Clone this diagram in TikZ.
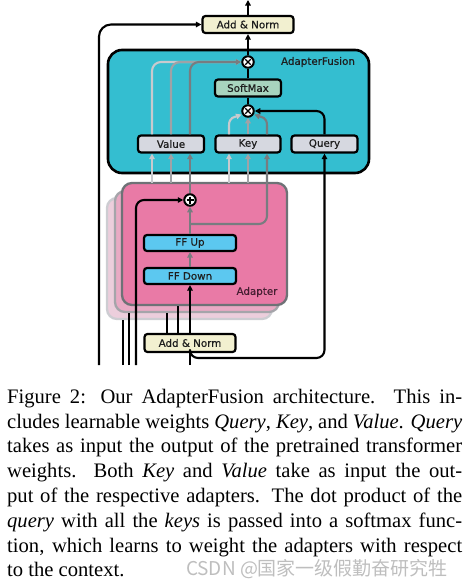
\documentclass[tikz,border=0pt]{standalone}
\usepackage{fontspec}
\setmainfont{Liberation Serif}
\newfontfamily\diagfont[FakeBold=0.6]{DejaVu Sans}
\newfontfamily\cjkfont{Noto Sans CJK SC}
\usetikzlibrary{arrows.meta,calc}
\definecolor{fusioncol}{RGB}{52,190,208}
\definecolor{pinkA}{RGB}{233,122,166}
\definecolor{pinkB}{RGB}{233,170,196}
\definecolor{pinkC}{RGB}{236,206,220}
\definecolor{edgeA}{RGB}{110,114,118}
\definecolor{edgeB}{RGB}{165,165,170}
\definecolor{edgeC}{RGB}{205,205,210}
\definecolor{normcol}{RGB}{242,240,208}
\definecolor{softcol}{RGB}{168,212,190}
\definecolor{wcol}{RGB}{214,216,224}
\definecolor{ffcol}{RGB}{92,200,240}
\definecolor{gLight}{RGB}{200,202,206}
\definecolor{gMid}{RGB}{160,162,166}
\definecolor{gDark}{RGB}{120,124,128}
\definecolor{inkcol}{RGB}{30,30,30}
\definecolor{adlabel}{RGB}{70,30,50}
\definecolor{markcol}{RGB}{190,190,190}
\begin{document}
\begin{tikzpicture}[x=1pt,y=-1pt,
  box/.style={draw=black, line width=2.2pt, rounded corners=3pt, inner sep=0pt,
    minimum height=17pt, text=inkcol, font=\diagfont\fontsize{10.3}{12}\selectfont},
  opnode/.style={circle, draw=black, line width=2pt, fill=white, minimum size=11.5pt, inner sep=0pt},
  layer/.style={line width=2.3pt, rounded corners=10pt, inner sep=0pt},
  wire/.style={line width=2.1pt, line join=round},
  tip/.style={-{Triangle[length=5.5pt,width=5.5pt]}},
  lbl/.style={inner sep=0pt, font=\diagfont\fontsize{10.3}{12}\selectfont},
  capline/.style={anchor=base west, inner sep=0pt, font=\fontsize{20.6}{24.8}\selectfont},
]
\useasboundingbox (0,0) rectangle (468,587);

% adapter layers
\node[layer, draw=edgeC, fill=pinkC, minimum width=165pt, minimum height=121pt] (layC) at (189.5,258.5) {};
\node[layer, draw=edgeB, fill=pinkB, minimum width=164pt, minimum height=121pt] (layB) at (197,251.5) {};
\node[layer, draw=edgeA, fill=pinkA, minimum width=165pt, minimum height=122pt] (layA) at (204.5,244) {};
\node[lbl, text=adlabel] (adlbl) at (257,292) {Adapter};

% fusion block
\node[draw=black, fill=fusioncol, line width=2.6pt, rounded corners=14pt, inner sep=0pt,
  minimum width=261pt, minimum height=123pt] (fusion) at (238.5,111.5) {};
\node[lbl, text=inkcol] (fuslbl) at (318,62) {AdapterFusion};

% boxes
\node[box, fill=normcol, minimum width=91pt] (topAN) at (248,24.5) {Add \& Norm};
\node[opnode] (otop) at (248,62) {};
\node[box, fill=softcol, minimum width=66pt] (soft) at (248,88) {SoftMax};
\node[opnode] (olow) at (248,111) {};
\node[box, fill=wcol, minimum width=66pt] (value) at (171,144) {Value};
\node[box, fill=wcol, minimum width=65pt] (key) at (248,144) {Key};
\node[box, fill=wcol, minimum width=66pt] (query) at (324.5,144) {Query};
\node[opnode] (plus) at (190,200) {};
\node[box, fill=ffcol, minimum width=92pt, minimum height=16pt] (ffup) at (190,243) {FF Up};
\node[box, fill=ffcol, minimum width=92pt, minimum height=16pt] (ffdown) at (190,276) {FF Down};
\node[box, fill=normcol, minimum width=91pt, minimum height=18pt] (botAN) at (190,343) {Add \& Norm};

% operator glyphs
\draw[line width=1.4pt] ($(otop)+(-2.7,-2.7)$) -- ($(otop)+(2.7,2.7)$) ($(otop)+(-2.7,2.7)$) -- ($(otop)+(2.7,-2.7)$);
\draw[line width=1.4pt] ($(olow)+(-2.7,-2.7)$) -- ($(olow)+(2.7,2.7)$) ($(olow)+(-2.7,2.7)$) -- ($(olow)+(2.7,-2.7)$);
\draw[line width=1.4pt] ($(plus)+(-3.5,0)$) -- ($(plus)+(3.5,0)$) ($(plus)+(0,-3.5)$) -- ($(plus)+(0,3.5)$);

% top part
\draw[wire, tip] (topAN.north) -- (248,0);
\draw[wire, tip] (otop.north) -- (topAN.south);
\draw[wire] (soft.north) -- (otop.south);
\draw[wire] (olow.north) -- (soft.south);
\draw[wire, tip, rounded corners=12pt] (99,365) |- (topAN.west);

% value outputs
\draw[wire, gLight, tip, rounded corners=9pt] ($(value.north)+(-19,0)$) |- (otop.west);
\draw[wire, gMid, tip, rounded corners=9pt] (value.north) |- (otop.west);
\draw[wire, gDark, tip, rounded corners=9pt] ($(value.north)+(19,0)$) |- (otop.west);

% key outputs
\draw[wire, gLight, tip] ($(key.north)+(-19,0)$) -- ++(0,-9) .. controls (229,117) and (235,117) .. (241.5,114.5);
\draw[wire, gMid, tip] (key.north) -- (olow.south);
\draw[wire, gDark, tip] ($(key.north)+(19,0)$) -- ++(0,-9) .. controls (267,117) and (261,117) .. (254.5,114.5);

% query
\draw[wire, tip, rounded corners=8pt] (query.north) |- (olow.east);
\draw[wire] (190,365) -- (botAN.south);
\draw[wire, tip, rounded corners=8pt] (190,352) -- (190,358) -| (query.south);

% inputs into value / key
\draw[wire, gLight, tip] (152,183) -- ($(value.south)+(-19,0)$);
\draw[wire, gMid, tip] (171,183) -- (value.south);
\draw[wire, gDark, tip] (plus.north) -- ($(value.south)+(19,0)$);
\draw[wire, gLight, tip] (229,183) -- ($(key.south)+(-19,0)$);
\draw[wire, gMid, tip] (248,183) -- (key.south);
\draw[wire, gDark, tip, rounded corners=8pt] (190,224) -| ($(key.south)+(19,0)$);

% inside adapter
\draw[wire, gDark, tip] (ffdown.north) -- (ffup.south);
\draw[wire, gDark, tip] (ffup.north) -- (plus.south);
\draw[wire, tip, rounded corners=8pt] (136,365) |- (plus.west);
\draw[wire, tip] (botAN.north) -- (ffdown.south);
\draw[wire] (178,334) -- (layA.south -| 178,0);
\draw[wire] (167,334) -- (layB.south -| 167,0);
\draw[wire] (129,365) -- (layB.south -| 129,0);
\draw[wire] (123,365) -- (layC.south -| 123,0);

% caption
\node[capline] (cap1) at (7,403.3) {\makebox[455pt][s]{Figure 2: Our AdapterFusion architecture. This in-}};
\node[capline] (cap2) at (7,428.1) {\makebox[455pt][s]{cludes learnable weights \textit{Query}, \textit{Key}, and \textit{Value}. \textit{Query}}};
\node[capline] (cap3) at (7,452.9) {\makebox[455pt][s]{takes as input the output of the pretrained transformer}};
\node[capline] (cap4) at (7,477.7) {\makebox[455pt][s]{weights. Both \textit{Key} and \textit{Value} take as input the out-}};
\node[capline] (cap5) at (7,502.5) {\makebox[455pt][s]{put of the respective adapters. The dot product of the}};
\node[capline] (cap6) at (7,527.3) {\makebox[455pt][s]{\textit{query} with all the \textit{keys} is passed into a softmax func-}};
\node[capline] (cap7) at (7,552.1) {\makebox[455pt][s]{tion, which learns to weight the adapters with respect}};
\node[capline] (cap8) at (7,576.9) {to the context.};
\node[inner sep=0pt, text=markcol, font=\cjkfont\fontsize{19}{22}\selectfont] (mark) at (317,569) {CSDN @国家一级假勤奋研究牲};
\end{tikzpicture}
\end{document}
